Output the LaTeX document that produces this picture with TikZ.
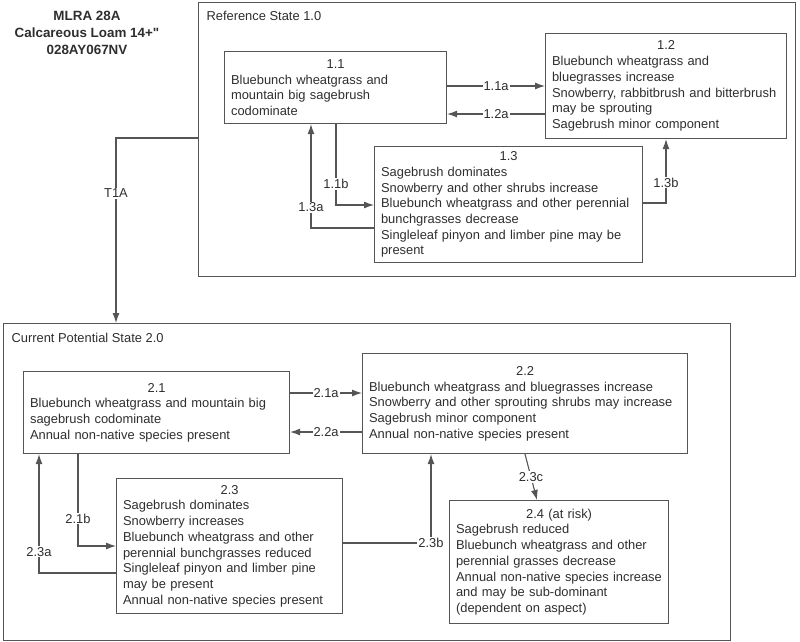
\documentclass[tikz,border=0pt]{standalone}
\usepackage{fontspec}
\setmainfont{Liberation Sans}[Ligatures=TeXOff]
\usetikzlibrary{arrows.meta}
\definecolor{ln}{HTML}{555555}
\definecolor{tx}{HTML}{2E2E2E}
\begin{document}
\begin{tikzpicture}[x=1pt,y=-1pt,
  every node/.style={text=tx,font=\fontsize{12.9}{15.7}\selectfont},
  box/.style={draw=ln,line width=1.1pt,anchor=north west,inner xsep=6.5pt,inner ysep=2pt,align=left},
  frame/.style={draw=ln,line width=1.1pt,anchor=north west,inner sep=0pt},
  arr/.style={draw=ln,line width=1.1pt,-{Latex[length=10pt,width=7pt]}},
  lbl/.style={fill=white,inner sep=1pt,text=tx}]
\useasboundingbox (0,0) rectangle (800,641);
% title
\node[font=\bfseries\fontsize{13.4}{17}\selectfont,align=center] (title) at (87,33) {MLRA 28A\\Calcareous Loam 14+"\\028AY067NV};
% state frames
\node[frame,minimum width=597pt,minimum height=274pt] (ref) at (198,2) {};
\node[anchor=west] (reflbl) at (203,16) {Reference State 1.0};
\node[frame,minimum width=727pt,minimum height=317pt] (cur) at (3,323) {};
\node[anchor=west] (curlbl) at (8,338) {Current Potential State 2.0};
% community boxes
\node[box,text width=209pt,minimum height=72pt] (b11) at (224,51)
 {{\centering 1.1\par}Bluebunch wheatgrass and\\mountain big sagebrush\\codominate};
\node[box,text width=228pt,minimum height=105pt] (b12) at (545,33)
 {{\centering 1.2\par}Bluebunch wheatgrass and\\bluegrasses increase\\Snowberry, rabbitbrush and bitterbrush\\may be sprouting\\Sagebrush minor component};
\node[box,text width=255pt,minimum height=116pt] (b13) at (374,146)
 {{\centering 1.3\par}Sagebrush dominates\\Snowberry and other shrubs increase\\Bluebunch wheatgrass and other perennial\\bunchgrasses decrease\\Singleleaf pinyon and limber pine may be\\present};
\node[box,text width=253pt,minimum height=82pt] (b21) at (23,371)
 {{\centering 2.1\par}Bluebunch wheatgrass and mountain big\\sagebrush codominate\\Annual non-native species present};
\node[box,text width=312pt,minimum height=100pt] (b22) at (362,353)
 {{\centering 2.2\par}Bluebunch wheatgrass and bluegrasses increase\\Snowberry and other sprouting shrubs may increase\\Sagebrush minor component\\Annual non-native species present};
\node[box,text width=213pt,minimum height=135pt] (b23) at (116,478)
 {{\centering 2.3\par}Sagebrush dominates\\Snowberry increases\\Bluebunch wheatgrass and other\\perennial bunchgrasses reduced\\Singleleaf pinyon and limber pine\\may be present\\Annual non-native species present};
\node[box,text width=206pt,minimum height=123pt] (b24) at (449,500)
 {{\centering 2.4 (at risk)\par}Sagebrush reduced\\Bluebunch wheatgrass and other\\perennial grasses decrease\\Annual non-native species increase\\and may be sub-dominant\\(dependent on aspect)};
% connectors, reference state
\draw[arr] ([yshift=-35pt]b11.north east) coordinate (p1a) -- (p1a -| b12.west) node[lbl,midway] {1.1a};
\draw[arr] ([yshift=-81pt]b12.north west) coordinate (p2a) -- (p2a -| b11.east) node[lbl,midway] {1.2a};
\draw[arr] ([xshift=112pt]b11.south west) |- ([yshift=-59pt]b13.north west) node[lbl,pos=0.37] {1.1b};
\draw[arr] ([yshift=-82pt]b13.north west) -| ([xshift=87pt]b11.south west) node[lbl,pos=0.6] {1.3a};
\draw[arr] ([yshift=-57pt]b13.north east) -| ([xshift=121pt]b12.south west) node[lbl,pos=0.66] {1.3b};
% transition
\draw[arr] ([yshift=-136pt]ref.north west) -| ([xshift=113pt]cur.north west) node[lbl,pos=0.65] {T1A};
% connectors, current state
\draw[arr] ([yshift=-22pt]b21.north east) coordinate (q1a) -- (q1a -| b22.west) node[lbl,midway] {2.1a};
\draw[arr] ([yshift=-79pt]b22.north west) coordinate (q2a) -- (q2a -| b21.east) node[lbl,midway] {2.2a};
\draw[arr] ([xshift=55pt]b21.south west) |- ([yshift=-68pt]b23.north west) node[lbl,pos=0.35] {2.1b};
\draw[arr] ([yshift=-95pt]b23.north west) -| ([xshift=16pt]b21.south west) node[lbl,pos=0.59] {2.3a};
\draw[arr] ([yshift=-65pt]b23.north east) -| ([xshift=69pt]b22.south west) node[lbl,pos=0.5] {2.3b};
\draw[arr] ([xshift=163pt]b22.south west) -- ([xshift=88pt]b24.north west) node[lbl,midway] {2.3c};
\end{tikzpicture}
\end{document}
